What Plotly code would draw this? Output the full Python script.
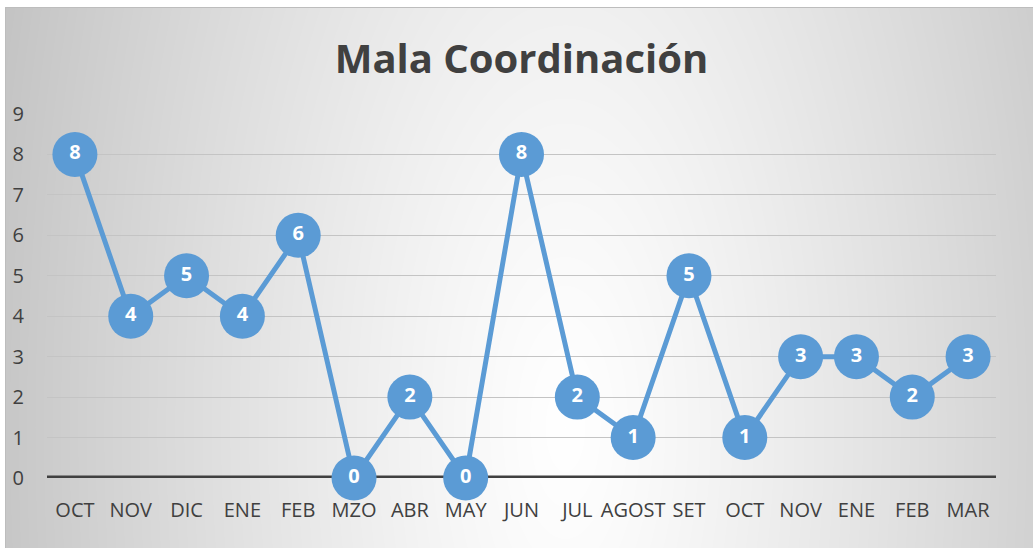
import base64
import zlib
import struct
import numpy as np
import plotly.graph_objects as go

# ---- data ----
months = ["OCT", "NOV", "DIC", "ENE", "FEB", "MZO", "ABR", "MAY", "JUN",
          "JUL", "AGOST", "SET", "OCT", "NOV", "ENE", "FEB", "MAR"]
values = [8, 4, 5, 4, 6, 0, 2, 0, 8, 2, 1, 5, 1, 3, 3, 2, 3]
y_ticks = [0, 1, 2, 3, 4, 5, 6, 7, 8, 9]
title_text = "Mala Coordinación"

positions = list(range(len(months)))

# ---- background radial gradient (generated PNG) ----
W, H = 1028, 541
yy, xx = np.mgrid[0:H, 0:W].astype(float)
cx, cy = 560.0, 420.0
d = np.sqrt(((xx - cx) / 530.0) ** 2 + ((yy - cy) / 1200.0) ** 2)
val = np.clip(255 - 52 * d ** 1.2, 150, 255).astype(np.uint8)


def make_png(arr):
    h, w = arr.shape
    raw = b"".join(b"\x00" + arr[i].tobytes() for i in range(h))

    def chunk(t, data):
        c = struct.pack(">I", len(data)) + t + data
        return c + struct.pack(">I", zlib.crc32(t + data) & 0xffffffff)

    png = b"\x89PNG\r\n\x1a\n"
    png += chunk(b"IHDR", struct.pack(">IIBBBBB", w, h, 8, 0, 0, 0, 0))
    png += chunk(b"IDAT", zlib.compress(raw, 9))
    png += chunk(b"IEND", b"")
    return png


bg_src = "data:image/png;base64," + base64.b64encode(make_png(val)).decode()

# plot area geometry (pixels)
ML, MR, MT, MB = 47, 37, 114, 70
FW, FH = 1033, 548
PW = FW - ML - MR
PH = FH - MT - MB


def px_to_paper_x(px):
    return (px - ML) / PW


def py_to_paper_y(py):
    return (FH - MB - py) / PH


fig = go.Figure()

fig.add_trace(go.Scatter(
    x=positions,
    y=values,
    mode="lines+markers+text",
    line=dict(color="#5b9bd5", width=5),
    marker=dict(color="#5b9bd5", size=45, line=dict(width=0)),
    text=[str(v) for v in values],
    textposition="middle center",
    textfont=dict(family="Open Sans", size=20, color="white", weight="bold"),
    cliponaxis=False,
    hoverinfo="skip",
))

fig.add_layout_image(dict(
    source=bg_src,
    xref="paper", yref="paper",
    x=px_to_paper_x(5), y=py_to_paper_y(7),
    sizex=W / PW, sizey=H / PH,
    xanchor="left", yanchor="top",
    sizing="stretch", layer="below",
))

# chart frame
fig.add_shape(type="rect", xref="paper", yref="paper",
              x0=px_to_paper_x(5.5), x1=px_to_paper_x(1040),
              y0=py_to_paper_y(560), y1=py_to_paper_y(7.5),
              line=dict(color="#bdbdbd", width=1), layer="below")

# zero axis line
fig.add_shape(type="line", xref="paper", yref="y",
              x0=0, x1=1, y0=0, y1=0,
              line=dict(color="#404040", width=5), layer="below")

fig.update_layout(
    width=FW, height=FH,
    margin=dict(l=ML, r=MR, t=MT, b=MB),
    paper_bgcolor="white",
    plot_bgcolor="rgba(0,0,0,0)",
    showlegend=False,
    title=dict(text=title_text, x=0.5, xref="paper", xanchor="center",
               y=1 - 59 / FH, yref="container", yanchor="middle",
               font=dict(family="Open Sans", size=40, color="#404040", weight="bold")),
    xaxis=dict(
        range=[-0.5, len(months) - 0.5],
        tickmode="array", tickvals=positions, ticktext=months,
        showgrid=False, zeroline=False, showline=False, ticks="",
        tickfont=dict(family="Open Sans", size=20, color="#404040"),
        ticklabelstandoff=18,
        fixedrange=True,
    ),
    yaxis=dict(
        range=[0, 9],
        tickmode="array", tickvals=y_ticks,
        showgrid=True, gridcolor="#c4c4c4", gridwidth=1.2,
        zeroline=False, showline=False, ticks="",
        tickfont=dict(family="Open Sans", size=20, color="#404040"),
        ticklabelstandoff=22,
        fixedrange=True,
    ),
)

fig.write_html("out.html", config={"displayModeBar": False},
               post_script="document.body.style.margin='0';")
